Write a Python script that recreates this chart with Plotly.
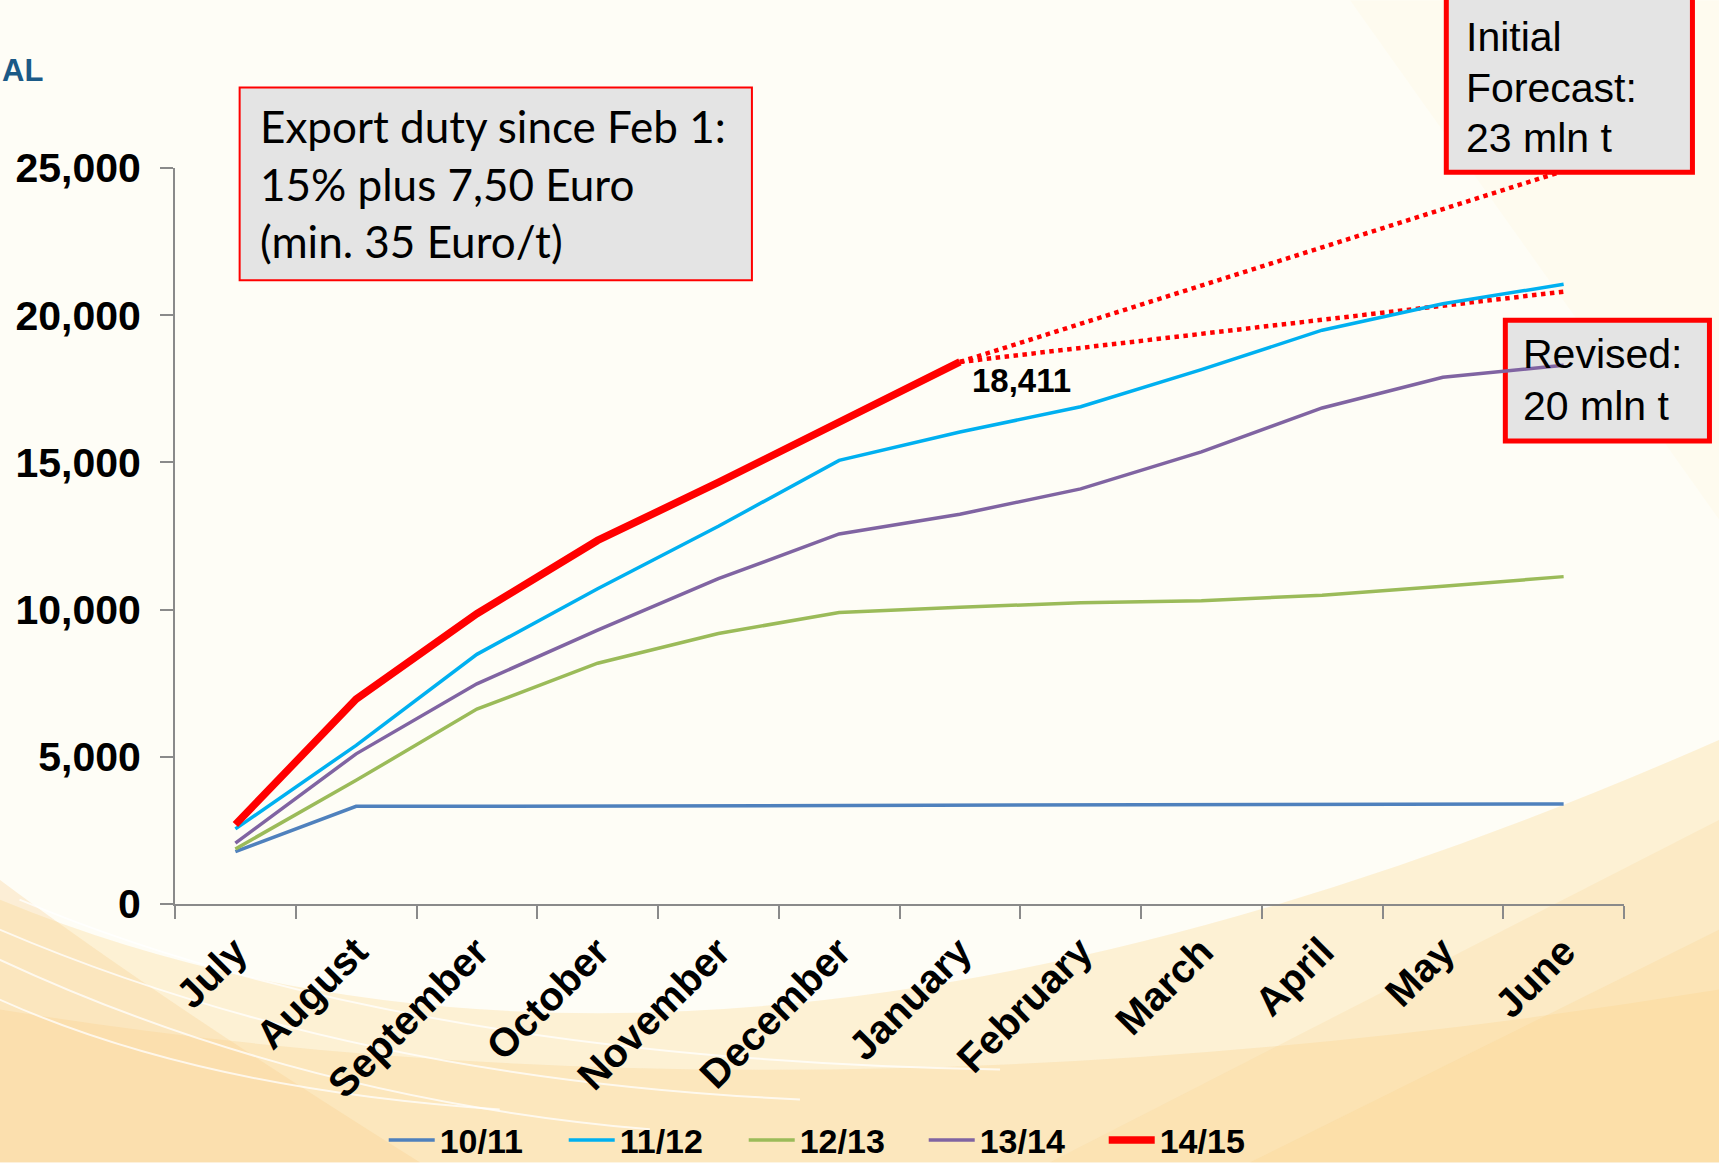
import plotly.graph_objects as go

# ---------------- data ----------------
months = ["July", "August", "September", "October", "November", "December",
          "January", "February", "March", "April", "May", "June"]
s_10_11 = [1780, 3320, 3320, 3330, 3340, 3350, 3350, 3350, 3360, 3370, 3380, 3400]
s_11_12 = [2550, 5390, 8480, 10710, 12830, 15070, 16030, 16890, 18150, 19490, 20390, 21050]
s_12_13 = [1870, 4200, 6620, 8180, 9190, 9900, 10080, 10230, 10300, 10490, 10790, 11120]
s_13_14 = [2070, 5100, 7480, 9300, 11050, 12570, 13240, 14100, 15360, 16850, 17890, 18300]
s_14_15 = [2700, 6960, 9860, 12350, 14320, 16370, 18411, None, None, None, None, None]
fc_months = ["January", "June"]
fc_initial = [18411, 24900]
fc_revised = [18411, 20800]
series_names = ["10/11", "11/12", "12/13", "13/14", "14/15"]
series_colors = ["#4F81BD", "#00B0F0", "#9BBB59", "#8064A2", "#FF0000"]

W, H = 1719, 1163
L, R, T, B = 175.4, 1623.6, 167.7, 904.4


def px(x):
    return (x - L) / (R - L)


def py(y):
    return (B - y) / (B - T)


def path(points, closed=True):
    cmds = []
    for p in points:
        if p[0] == "M" or p[0] == "L":
            cmds.append(f"{p[0]} {px(p[1]):.4f},{py(p[2]):.4f}")
        elif p[0] == "Q":
            cmds.append(f"Q {px(p[1]):.4f},{py(p[2]):.4f} {px(p[3]):.4f},{py(p[4]):.4f}")
    s = " ".join(cmds)
    return s + (" Z" if closed else "")


fig = go.Figure()

# forecast dotted lines
for yy in (fc_initial, fc_revised):
    fig.add_trace(go.Scatter(x=fc_months, y=yy, mode="lines", showlegend=False,
                             line=dict(color="#FF0000", width=4.5, dash="dot"),
                             hoverinfo="skip"))

widths = [3.5, 3.5, 3.5, 3.5, 7.5]
for name, vals, col, w in zip(series_names, [s_10_11, s_11_12, s_12_13, s_13_14, s_14_15],
                              series_colors, widths):
    fig.add_trace(go.Scatter(x=months, y=vals, mode="lines", name=name,
                             line=dict(color=col, width=w)))

shapes = []
bg = [
    ([("M", 0, 900), ("Q", 700, 1190, 1719, 740), ("L", 1719, 1163), ("L", 0, 1163)], "rgba(252,226,170,0.45)"),
    ([("M", 0, 1010), ("Q", 800, 1140, 1719, 990), ("L", 1719, 1163), ("L", 0, 1163)], "rgba(250,212,145,0.35)"),
    ([("M", 0, 880), ("Q", 160, 1000, 420, 1163), ("L", 0, 1163)], "rgba(248,205,140,0.30)"),
    ([("M", 1050, 1163), ("L", 1719, 820), ("L", 1719, 1163)], "rgba(250,215,150,0.25)"),
    ([("M", 1250, 1163), ("L", 1719, 930), ("L", 1719, 1163)], "rgba(250,210,140,0.25)"),
    ([("M", 1350, 0), ("L", 1719, 0), ("L", 1719, 520)], "rgba(252,240,200,0.14)"),
]
for pts, col in bg:
    shapes.append(dict(type="path", xref="paper", yref="paper", path=path(pts),
                       fillcolor=col, line=dict(width=0), layer="below"))
arcs = [
    [("M", 0, 930), ("Q", 350, 1080, 800, 1100)],
    [("M", 0, 960), ("Q", 300, 1100, 650, 1130)],
    [("M", 0, 1000), ("Q", 200, 1090, 500, 1110)],
    [("M", 20, 900), ("Q", 400, 1060, 1000, 1070)],
]
for pts in arcs:
    shapes.append(dict(type="path", xref="paper", yref="paper", path=path(pts, closed=False),
                       line=dict(color="rgba(255,255,255,0.75)", width=2), layer="below"))

# text boxes
shapes.append(dict(type="rect", xref="paper", yref="paper", x0=px(240), x1=px(752), y0=py(280), y1=py(87),
                   fillcolor="#E4E4E4", line=dict(color="#FF0000", width=2), layer="above"))
shapes.append(dict(type="rect", xref="paper", yref="paper", x0=px(1446), x1=px(1692), y0=py(172), y1=py(-10),
                   fillcolor="#E4E4E4", line=dict(color="#FF0000", width=5), layer="above"))
shapes.append(dict(type="rect", xref="paper", yref="paper", x0=px(1505), x1=px(1709), y0=py(441), y1=py(320),
                   fillcolor="#E4E4E4", line=dict(color="#FF0000", width=5), layer="below"))

ann = []


def text(t, x, y, size, family="Liberation Sans, Arial", weight="normal", color="black",
         xanchor="left"):
    ann.append(dict(text=t, xref="paper", yref="paper", x=px(x), y=py(y), xanchor=xanchor,
                    yanchor="middle", showarrow=False,
                    font=dict(size=size, family=family, weight=weight, color=color)))


for t, y in zip(["Export duty since Feb 1:", "15% plus 7,50 Euro", "(min. 35 Euro/t)"], [126, 184, 241]):
    text(t, 258, y, 44, family="Lato, Liberation Sans")
for t, y in zip(["Initial", "Forecast:", "23 mln t"], [37, 88, 138]):
    text(t, 1464, y, 41)
for t, y in zip(["Revised:", "20 mln t"], [354, 406]):
    text(t, 1521, y, 41)
text("18,411", 1021, 380, 33, weight="bold", xanchor="center")
text("AL", 0, 70, 31, weight="bold", color="#1B5A87", xanchor="left")

fig.update_layout(
    width=W, height=H, autosize=False,
    margin=dict(l=L, r=W - R, t=T, b=H - B, pad=0, autoexpand=False),
    paper_bgcolor="#FEFDF6", plot_bgcolor="rgba(0,0,0,0)",
    shapes=shapes, annotations=ann,
    font=dict(family="Liberation Sans, Arial", color="black"),
    legend=dict(orientation="h", x=px(384), xanchor="left", y=py(1141), yanchor="middle",
                font=dict(size=34, weight="bold"), bgcolor="rgba(0,0,0,0)",
                itemwidth=46, entrywidth=119, entrywidthmode="pixels", tracegroupgap=0),
    showlegend=True,
)
fig.update_xaxes(type="category", categoryorder="array", categoryarray=months,
                 range=[-0.5, 11.5], tickson="boundaries", ticks="outside", ticklen=13,
                 tickcolor="#8A8A8A", tickwidth=2, showline=True, linecolor="#8A8A8A", linewidth=2,
                 showgrid=False, tickangle=-45, tickfont=dict(size=40, weight="bold"),
                 ticklabelstandoff=6, zeroline=False, automargin=False)
fig.update_yaxes(range=[0, 25000], dtick=5000, tickformat=",", ticks="outside", ticklen=13,
                 tickcolor="#8A8A8A", tickwidth=2, showline=True, linecolor="#8A8A8A", linewidth=2,
                 showgrid=False, zeroline=False, tickfont=dict(size=41, weight="bold"),
                 ticklabelstandoff=11, automargin=False)

fig.write_html("out.html", config={"displayModeBar": False},
               post_script="document.body.style.margin='0px';document.body.style.overflow='hidden';")
